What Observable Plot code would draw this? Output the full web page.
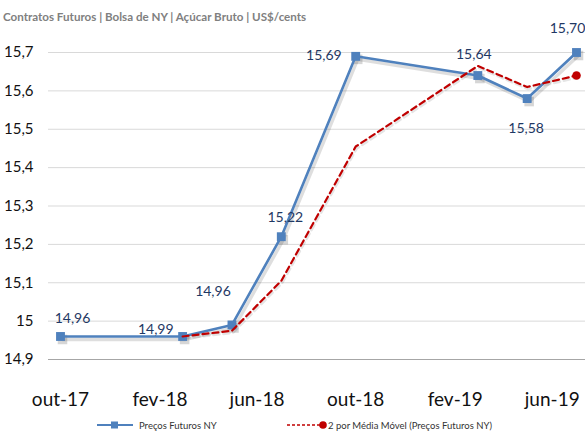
<!DOCTYPE html>
<html>
<head>
<meta charset="utf-8">
<script src="https://cdn.jsdelivr.net/npm/d3@7"></script>
<script src="https://cdn.jsdelivr.net/npm/@observablehq/plot@0.6"></script>
<style>
  html, body { margin: 0; padding: 0; background: #fff; }
  #wrap { width: 585px; height: 431px; position: relative; overflow: hidden; font-family: Lato, "Open Sans", sans-serif; }
  #subtitle { height: 20px; position: relative; }
  #subtitle span { position: absolute; left: 3px; top: 10px; font-size: 11.6px; line-height: 13px; font-weight: bold; color: #808080; white-space: nowrap; }
  #chart { height: 390px; }
  #chart svg { display: block; overflow: visible; }
  #legend { height: 21px; position: relative; font-size: 9.5px; color: #333; }
  #legend .item { position: absolute; top: 8px; height: 14px; display: flex; align-items: center; white-space: nowrap; }
</style>
</head>
<body>
<div id="wrap">
  <div id="subtitle"><span>Contratos Futuros | Bolsa de NY | Açúcar Bruto | US$/cents</span></div>
  <div id="chart"></div>
  <div id="legend"></div>
</div>
<script>
// ---- data ----
const months = ["2017-10", "2018-03", "2018-05", "2018-07", "2018-10", "2019-03", "2019-05", "2019-07"];
const prices = [14.96, 14.96, 14.99, 15.22, 15.69, 15.64, 15.58, 15.70];
const movingAvg = [null, 14.96, 14.975, 15.105, 15.455, 15.665, 15.61, 15.64];
const pointLabels = ["14,96", "14,99", "14,96", "15,22", "15,69", "15,64", "15,58", "15,70"];
const xTickMonths = ["2017-10", "2018-02", "2018-06", "2018-10", "2019-02", "2019-06"];
const xTickLabels = ["out-17", "fev-18", "jun-18", "out-18", "fev-19", "jun-19"];
const yTicks = [14.9, 15.0, 15.1, 15.2, 15.3, 15.4, 15.5, 15.6, 15.7];
const yTickLabels = ["14,9", "15", "15,1", "15,2", "15,3", "15,4", "15,5", "15,6", "15,7"];
const seriesNames = ["Preços Futuros NY", "2 por Média Móvel (Preços Futuros NY)"];

// ---- layout / style (not data) ----
const labelOffsets = [[12, -18, "middle"], [-9, -7, "end"], [-19, -33, "middle"], [4, -19, "middle"],
                      [-14, -1, "end"], [-4, -21, "middle"], [-1, 30, "middle"], [-9, -24, "middle"]];
const blue = "#4f81bd", red = "#c00000", labelColor = "#1f3864";

const parseMonth = d3.utcParse("%Y-%m");
const table = months.map((m, i) => ({date: parseMonth(m), price: prices[i], ma: movingAvg[i], label: pointLabels[i]}));
const maTable = table.filter(d => d.ma != null);
const xTicks = xTickMonths.map(parseMonth);
const xLabelOf = new Map(xTicks.map((d, i) => [+d, xTickLabels[i]]));
const yLabelOf = new Map(yTicks.map((d, i) => [d.toFixed(1), yTickLabels[i]]));

const plot = Plot.plot({
  width: 585,
  height: 390,
  marginLeft: 48,
  marginRight: 0,
  marginTop: 32,
  marginBottom: 51,
  insetLeft: 12,
  insetRight: 9,
  style: {fontFamily: "Lato, 'Open Sans', sans-serif", background: "#fff", overflow: "visible"},
  x: {type: "utc", domain: [table[0].date, table[table.length - 1].date]},
  y: {domain: [14.9, 15.7]},
  marks: [
    Plot.ruleY(yTicks.slice(1), {stroke: "#d9d9d9", strokeWidth: 1}),
    Plot.ruleY([yTicks[0]], {stroke: "#a6a6a6", strokeWidth: 1}),
    Plot.axisY({ticks: yTicks, tickSize: 0, tickPadding: 15, fontSize: 15, fill: "#111",
      tickFormat: d => yLabelOf.get(d.toFixed(1))}),
    Plot.axisX({ticks: xTicks, tickSize: 0, tickPadding: 33, fontSize: 19, fill: "#111",
      tickFormat: d => xLabelOf.get(+d)}),
    // soft shadows
    Plot.line(maTable, {x: "date", y: "ma", stroke: "#000", strokeOpacity: 0.1, strokeWidth: 2.6, strokeDasharray: "6,4", dx: 1, dy: 2}),
    Plot.line(table, {x: "date", y: "price", stroke: "#000", strokeOpacity: 0.13, strokeWidth: 3.4, dx: 2, dy: 3}),
    Plot.dot(table, {x: "date", y: "price", symbol: "square", r: 5.4, fill: "#000", fillOpacity: 0.16, dx: 2, dy: 3}),
    // series
    Plot.line(table, {x: "date", y: "price", stroke: blue, strokeWidth: 2.6}),
    Plot.dot(table, {x: "date", y: "price", symbol: "square", r: 5, fill: blue}),
    Plot.line(maTable, {x: "date", y: "ma", stroke: red, strokeWidth: 2.2, strokeDasharray: "6,4"}),
    Plot.dot(maTable.slice(-1), {x: "date", y: "ma", r: 4.3, fill: red}),
    ...labelOffsets.map(([dx, dy, anchor], i) =>
      Plot.text([table[i]], {x: "date", y: "price", text: "label", dx, dy, textAnchor: anchor,
        fill: labelColor, fontSize: 14}))
  ]
});
document.getElementById("chart").appendChild(plot);

// ---- legend ----
const legend = d3.select("#legend");
const item1 = legend.append("div").attr("class", "item").style("left", "96px");
const s1 = item1.append("svg").attr("width", 40).attr("height", 14);
s1.append("line").attr("x1", 1).attr("x2", 37).attr("y1", 7).attr("y2", 7).attr("stroke", blue).attr("stroke-width", 2);
s1.append("rect").attr("x", 15).attr("y", 3.5).attr("width", 7).attr("height", 7).attr("fill", blue);
item1.append("span").text(seriesNames[0]).style("margin-left", "3px");

const item2 = legend.append("div").attr("class", "item").style("left", "286px");
const s2 = item2.append("svg").attr("width", 41).attr("height", 14);
s2.append("line").attr("x1", 1).attr("x2", 36).attr("y1", 7).attr("y2", 7).attr("stroke", red).attr("stroke-width", 1.4).attr("stroke-dasharray", "3,2");
s2.append("circle").attr("cx", 37).attr("cy", 7).attr("r", 3.8).attr("fill", red);
item2.append("span").text(seriesNames[1]).style("margin-left", "1px");
</script>
</body>
</html>
